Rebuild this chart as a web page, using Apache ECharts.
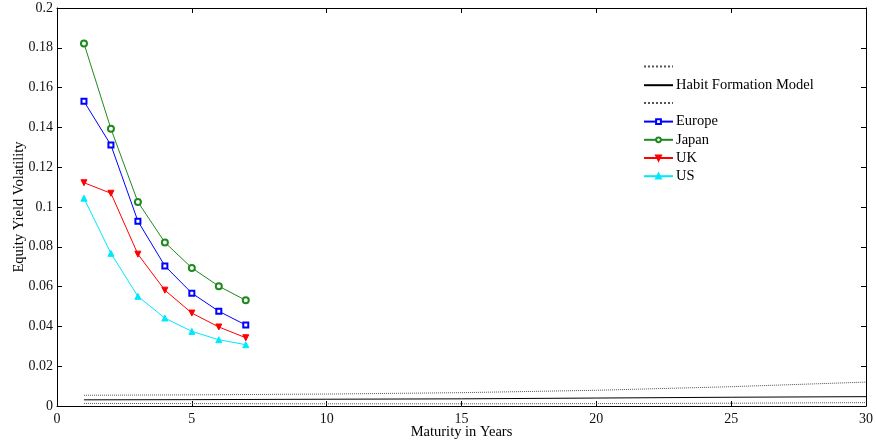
<!DOCTYPE html>
<html>
<head>
<meta charset="utf-8">
<script src="https://cdn.jsdelivr.net/npm/echarts@6/dist/echarts.min.js"></script>
<style>
  html, body { margin: 0; padding: 0; background: #fff; }
  #chart { width: 876px; height: 442px; }
</style>
</head>
<body>
<div id="chart"></div>
<script>
// Maturities (years) for the observed equity yield volatilities
const maturities = [1, 2, 3, 4, 5, 6, 7];
const europe = [0.1531, 0.1311, 0.0929, 0.0704, 0.0567, 0.0476, 0.0407];
const japan  = [0.1822, 0.1393, 0.1025, 0.0822, 0.0694, 0.0602, 0.0531];
const uk     = [0.1122, 0.1069, 0.0763, 0.0582, 0.0467, 0.0397, 0.0343];
const us     = [0.1044, 0.0767, 0.0551, 0.0442, 0.0375, 0.0333, 0.0308];

// Model-implied volatility with upper and lower bands
const modelMaturities = [1, 5, 10, 15, 20, 25, 30];
const modelUpper = [0.0054, 0.0056, 0.0060, 0.0067, 0.0079, 0.0097, 0.0120];
const modelMid   = [0.0031, 0.0032, 0.0034, 0.0036, 0.0040, 0.0044, 0.0047];
const modelLower = [0.0013, 0.0012, 0.0011, 0.0011, 0.0012, 0.0014, 0.0017];

const xTicks = [0, 5, 10, 15, 20, 25, 30];
const yTicks = [0, 0.02, 0.04, 0.06, 0.08, 0.1, 0.12, 0.14, 0.16, 0.18, 0.2];

// Legend entries in display order
const legendNames = ['Upper band', 'Habit Formation Model', 'Lower band', 'Europe', 'Japan', 'UK', 'US'];

const FONT = 'Liberation Serif';
const pairs = (xs, ys) => xs.map((x, i) => [x, ys[i]]);
const isBand = n => n.indexOf('band') >= 0;

const chart = echarts.init(document.getElementById('chart'), null, { renderer: 'canvas' });

const axisLine = () => ({ show: true, onZero: false, lineStyle: { color: '#000', width: 1 } });
const tick = () => ({ show: true, inside: true, length: 5, lineStyle: { color: '#000', width: 1 } });

function countrySeries(name, data, color, symbol, size, rotate) {
  return {
    name, type: 'line', data: pairs(maturities, data),
    symbol, symbolSize: size, symbolRotate: rotate || 0,
    lineStyle: { color, width: 1 },
    itemStyle: { color, borderColor: color, borderWidth: 1 },
    emphasis: { disabled: true }, animation: false, z: 3
  };
}

function modelSeries(name, data, type) {
  return {
    name, type: 'line', data: pairs(modelMaturities, data),
    showSymbol: false, symbol: 'none',
    lineStyle: { color: type === 'solid' ? '#000' : '#555', width: 1, type },
    itemStyle: { color: '#000', opacity: 0 },
    emphasis: { disabled: true }, animation: false, z: 2
  };
}

// One legend block per entry, rows centred on an even pitch;
// rows with text have a taller box, so they start higher
const legends = legendNames.map((name, i) => {
  const rowCentre = 66 + i * 18.2;
  return {
    left: 643, top: rowCentre - (isBand(name) ? 2.5 : 6.5), orient: 'vertical', padding: 0,
    itemWidth: 29, itemHeight: 6, selectedMode: false,
    textStyle: { fontFamily: FONT, fontSize: 14.5, color: '#000', padding: [0, 0, 0, -2] },
    formatter: n => (isBand(n) ? '' : n),
    data: [name]
  };
});

chart.setOption({
  backgroundColor: '#fff',
  animation: false,
  grid: { left: 57, right: 10, top: 8, bottom: 36, containLabel: false, outerBoundsMode: 'none' },
  legend: legends,
  xAxis: [{
    type: 'value', min: 0, max: 30, interval: 5,
    name: 'Maturity in Years', nameLocation: 'middle', nameGap: 19, nameMoveOverlap: false,
    nameTextStyle: { fontFamily: FONT, fontSize: 14.5, color: '#000' },
    axisLine: axisLine(), axisTick: tick(), splitLine: { show: false },
    axisLabel: { fontFamily: FONT, fontSize: 14, color: '#111', margin: 6,
      formatter: v => (xTicks.indexOf(v) >= 0 ? String(v) : '') }
  }, {
    type: 'value', min: 0, max: 30, interval: 5, position: 'top',
    axisLine: axisLine(), axisTick: tick(), axisLabel: { show: false }, splitLine: { show: false }
  }],
  yAxis: [{
    type: 'value', min: 0, max: 0.2, interval: 0.02,
    name: 'Equity Yield Volatility', nameLocation: 'middle', nameGap: 30, nameMoveOverlap: false,
    nameTextStyle: { fontFamily: FONT, fontSize: 14.5, color: '#000' },
    axisLine: axisLine(), axisTick: tick(), splitLine: { show: false },
    axisLabel: { fontFamily: FONT, fontSize: 14, color: '#111', margin: 4,
      formatter: v => {
        const t = yTicks.find(y => Math.abs(y - v) < 1e-9);
        return t === undefined ? '' : String(+t.toFixed(2));
      } }
  }, {
    type: 'value', min: 0, max: 0.2, interval: 0.02, position: 'right',
    axisLine: axisLine(), axisTick: tick(), axisLabel: { show: false }, splitLine: { show: false }
  }],
  series: [
    modelSeries('Upper band', modelUpper, 'dotted'),
    modelSeries('Habit Formation Model', modelMid, 'solid'),
    modelSeries('Lower band', modelLower, 'dotted'),
    countrySeries('Europe', europe, '#0000ff', 'emptyRect', 5),
    countrySeries('Japan', japan, '#1e8a1e', 'emptyCircle', 6),
    countrySeries('UK', uk, '#ff0000', 'triangle', 6, 180),
    countrySeries('US', us, '#00e8ff', 'triangle', 6)
  ]
});
</script>
</body>
</html>
